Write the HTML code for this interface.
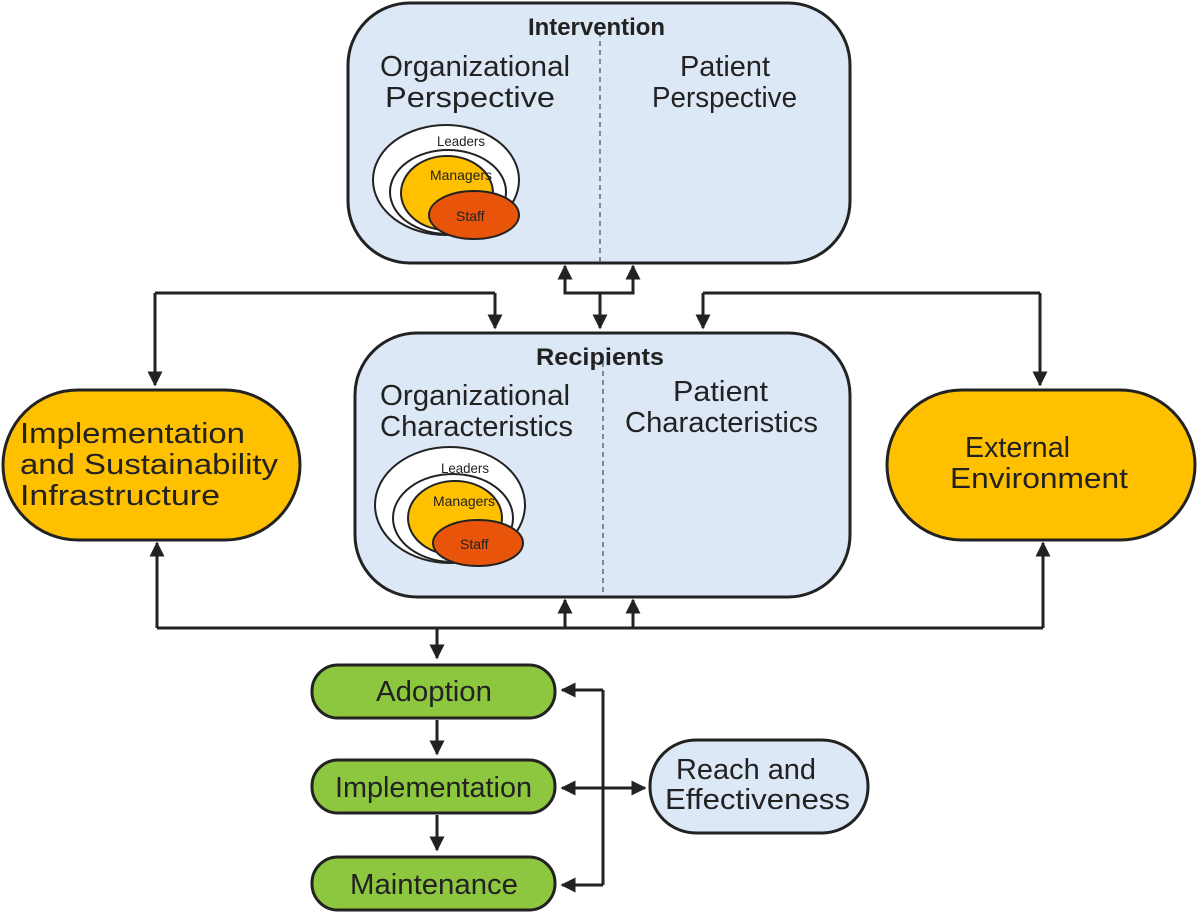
<!DOCTYPE html>
<html><head><meta charset="utf-8"><style>body{margin:0;background:#fff}svg{display:block}text{font-family:"Liberation Sans",sans-serif;fill:#222}</style></head>
<body>
<svg width="1200" height="917" viewBox="0 0 1200 917" xmlns="http://www.w3.org/2000/svg">
<defs>
<marker id="b" viewBox="0 0 10 10" refX="9" refY="5" markerWidth="15" markerHeight="15" markerUnits="userSpaceOnUse" orient="auto"><path d="M0,0L10,5L0,10z" fill="#222"/></marker></defs>
<g stroke="#222" stroke-width="3" fill="none">
<rect x="348" y="3" width="502" height="260" rx="62" fill="#dce8f6"/>
<rect x="355" y="333" width="495" height="264" rx="62" fill="#dce8f6"/>
<rect x="3" y="390" width="297" height="150" rx="75" fill="#ffc000"/>
<rect x="887" y="390" width="308" height="150" rx="75" fill="#ffc000"/>
<rect x="312" y="665" width="243" height="53" rx="26" fill="#8dc63f"/>
<rect x="312" y="760" width="243" height="53" rx="26" fill="#8dc63f"/>
<rect x="312" y="857" width="243" height="53" rx="26" fill="#8dc63f"/>
<rect x="650" y="740" width="218" height="93" rx="46" fill="#dce8f6"/>
<line x1="600" y1="32" x2="600" y2="262" stroke-width="1.3" stroke-dasharray="5,4" stroke="#555"/>
<line x1="603" y1="362" x2="603" y2="596" stroke-width="1.3" stroke-dasharray="5,4" stroke="#555"/>
<ellipse cx="446" cy="180" rx="73" ry="55" fill="#fff" stroke-width="2"/>
<ellipse cx="448" cy="192" rx="58" ry="42" fill="#fff" stroke-width="2"/>
<ellipse cx="447" cy="193" rx="46" ry="37" fill="#ffc000" stroke-width="2"/>
<ellipse cx="474" cy="215" rx="45" ry="24" fill="#e8540a" stroke-width="2"/>
<ellipse cx="450" cy="505" rx="75" ry="58" fill="#fff" stroke-width="2"/>
<ellipse cx="453" cy="518" rx="60" ry="44" fill="#fff" stroke-width="2"/>
<ellipse cx="455" cy="518" rx="47" ry="37" fill="#ffc000" stroke-width="2"/>
<ellipse cx="478" cy="543" rx="45" ry="23" fill="#e8540a" stroke-width="2"/>
<polyline points="155,293 495,293"/>
<line x1="155" y1="293" x2="155" y2="385" marker-end="url(#b)"/>
<line x1="495" y1="293" x2="495" y2="328" marker-end="url(#b)"/>
<polyline points="703,293 1040,293"/>
<line x1="703" y1="293" x2="703" y2="328" marker-end="url(#b)"/>
<line x1="1040" y1="293" x2="1040" y2="385" marker-end="url(#b)"/>
<line x1="600" y1="293" x2="600" y2="328" marker-end="url(#b)"/>
<polyline points="565,280 565,293 633,293 633,280"/>
<line x1="565" y1="285" x2="565" y2="266" marker-end="url(#b)"/>
<line x1="633" y1="285" x2="633" y2="266" marker-end="url(#b)"/>
<line x1="157" y1="628" x2="1043" y2="628"/>
<line x1="157" y1="628" x2="157" y2="543" marker-end="url(#b)"/>
<line x1="1043" y1="628" x2="1043" y2="543" marker-end="url(#b)"/>
<line x1="565" y1="628" x2="565" y2="600" marker-end="url(#b)"/>
<line x1="633" y1="628" x2="633" y2="600" marker-end="url(#b)"/>
<line x1="437" y1="628" x2="437" y2="658" marker-end="url(#b)"/>
<line x1="437" y1="720" x2="437" y2="754" marker-end="url(#b)"/>
<line x1="437" y1="815" x2="437" y2="850" marker-end="url(#b)"/>
<polyline points="603,690 603,885"/>
<line x1="603" y1="690" x2="562" y2="690" marker-end="url(#b)"/>
<line x1="603" y1="788" x2="562" y2="788" marker-end="url(#b)"/>
<line x1="603" y1="885" x2="562" y2="885" marker-end="url(#b)"/>
<line x1="603" y1="788" x2="645" y2="788" marker-end="url(#b)"/>
</g>
<g font-size="29">
<text x="528" y="35" font-weight="bold" font-size="24" textLength="137" lengthAdjust="spacingAndGlyphs">Intervention</text>
<text x="380" y="76" textLength="190" lengthAdjust="spacingAndGlyphs">Organizational</text>
<text x="385" y="107" textLength="170" lengthAdjust="spacingAndGlyphs">Perspective</text>
<text x="680" y="76" textLength="90" lengthAdjust="spacingAndGlyphs">Patient</text>
<text x="652" y="107" textLength="145" lengthAdjust="spacingAndGlyphs">Perspective</text>
<text x="437" y="146" font-size="14" textLength="48" lengthAdjust="spacingAndGlyphs">Leaders</text>
<text x="430" y="180" font-size="14" textLength="62" lengthAdjust="spacingAndGlyphs">Managers</text>
<text x="456" y="221" font-size="14">Staff</text>
<text x="536" y="365" font-weight="bold" font-size="24" textLength="128" lengthAdjust="spacingAndGlyphs">Recipients</text>
<text x="380" y="405" textLength="190" lengthAdjust="spacingAndGlyphs">Organizational</text>
<text x="380" y="436" textLength="193" lengthAdjust="spacingAndGlyphs">Characteristics</text>
<text x="673" y="401" textLength="95" lengthAdjust="spacingAndGlyphs">Patient</text>
<text x="625" y="432" textLength="193" lengthAdjust="spacingAndGlyphs">Characteristics</text>
<text x="441" y="473" font-size="14" textLength="48" lengthAdjust="spacingAndGlyphs">Leaders</text>
<text x="433" y="506" font-size="14" textLength="62" lengthAdjust="spacingAndGlyphs">Managers</text>
<text x="460" y="549" font-size="14">Staff</text>
<text x="965" y="457" textLength="105" lengthAdjust="spacingAndGlyphs">External</text>
<text x="950" y="488" textLength="178" lengthAdjust="spacingAndGlyphs">Environment</text>
<text x="376" y="701" textLength="116" lengthAdjust="spacingAndGlyphs">Adoption</text>
<text x="335" y="797" textLength="197" lengthAdjust="spacingAndGlyphs">Implementation</text>
<text x="350" y="894" textLength="168" lengthAdjust="spacingAndGlyphs">Maintenance</text>
<text x="676" y="779" textLength="140" lengthAdjust="spacingAndGlyphs">Reach and</text>
<text x="665" y="809" textLength="185" lengthAdjust="spacingAndGlyphs">Effectiveness</text>
<text x="20" y="443" textLength="225" lengthAdjust="spacingAndGlyphs">Implementation</text>
<text x="20" y="474" textLength="258" lengthAdjust="spacingAndGlyphs">and Sustainability</text>
<text x="20" y="505" textLength="200" lengthAdjust="spacingAndGlyphs">Infrastructure</text>
</g>
</svg>
</body></html>
